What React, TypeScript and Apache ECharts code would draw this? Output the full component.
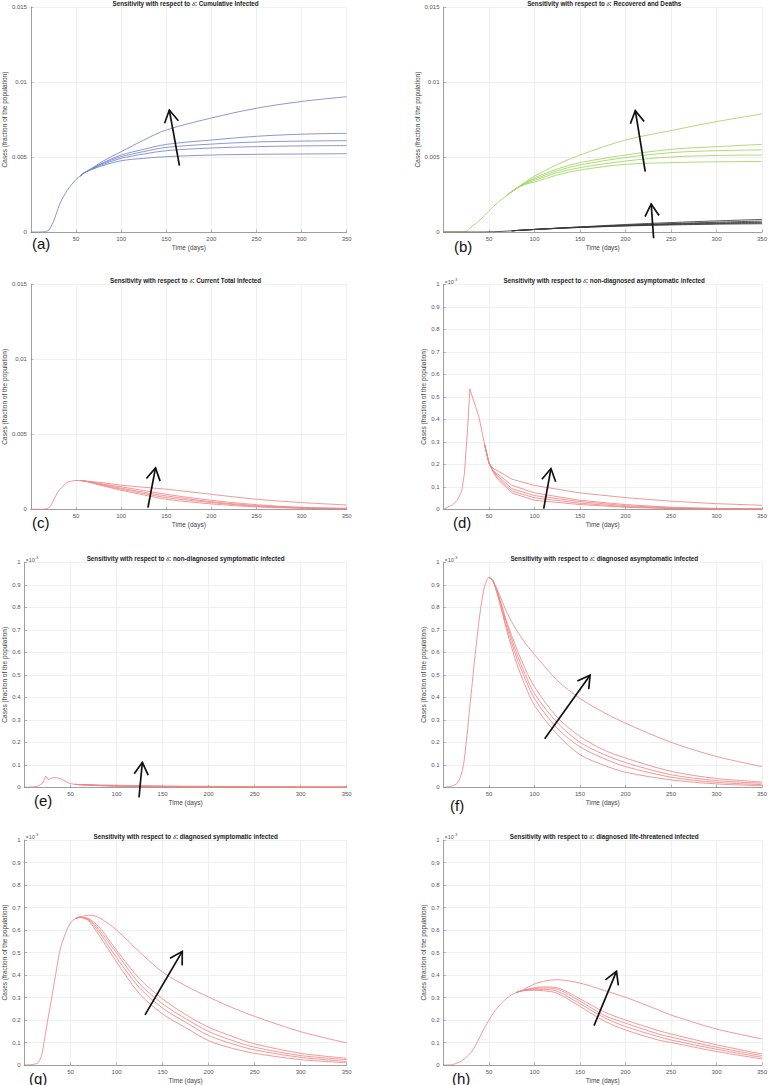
import React, { useEffect, useRef } from 'react';
import * as echarts from 'echarts';

// ---------- data (all values in units of 1e-3 of the population) ----------
// (a) Cumulative Infected
const AT0 = [0, 10, 15, 20, 23, 26, 30, 33, 36, 40, 45, 50, 55, 60];
const AV0 = [0, 0, 0.02, 0.13, 0.45, 0.85, 1.55, 2.0, 2.35, 2.75, 3.15, 3.5, 3.75, 3.98];
const AT1 = [70, 80, 100, 125, 150, 200, 250, 300, 350];
const AV1 = [4.22, 4.44, 4.75, 4.91, 5.02, 5.13, 5.18, 5.2, 5.22];
const AV2 = [4.25, 4.51, 4.91, 5.2, 5.42, 5.6, 5.69, 5.74, 5.76];
const AV3 = [4.28, 4.58, 5.02, 5.36, 5.64, 5.86, 6.0, 6.06, 6.09];
const AV4 = [4.3, 4.62, 5.13, 5.51, 5.84, 6.13, 6.38, 6.52, 6.58];
const AV5 = [4.35, 4.73, 5.35, 6.13, 6.8, 7.6, 8.25, 8.7, 9.02];

// (b) Recovered (green) and Deaths (black)
const BT0 = [0, 20, 25, 30, 40, 50, 60, 70, 80];
const BV0 = [0, 0, 0.05, 0.3, 0.8, 1.42, 1.98, 2.47, 2.9];
const BT1 = [90, 100, 125, 150, 200, 250, 300, 350];
const BV1 = [3.18, 3.33, 3.8, 4.13, 4.51, 4.62, 4.68, 4.7];
const BV2 = [3.22, 3.44, 3.95, 4.29, 4.73, 5.0, 5.1, 5.13];
const BV3 = [3.25, 3.53, 4.08, 4.47, 4.96, 5.29, 5.42, 5.47];
const BV4 = [3.28, 3.62, 4.2, 4.62, 5.13, 5.51, 5.69, 5.84];
const BV5 = [3.35, 3.73, 4.5, 5.13, 6.13, 6.76, 7.36, 7.87];
const KT0 = [0, 40, 50, 60, 75, 100];
const KV0 = [0, 0, 0.01, 0.03, 0.08, 0.17];
const KT1 = [125, 150, 200, 250, 300, 350];
const KV1 = [0.24, 0.3, 0.4, 0.47, 0.52, 0.55];
const KV2 = [0.24, 0.31, 0.42, 0.5, 0.56, 0.6];
const KV3 = [0.25, 0.32, 0.44, 0.53, 0.6, 0.65];
const KV4 = [0.25, 0.33, 0.46, 0.56, 0.65, 0.73];
const KV5 = [0.26, 0.34, 0.5, 0.63, 0.74, 0.84];

// (c) Current Total Infected
const CT0 = [0, 10, 20, 25, 30, 35, 40, 45, 50, 55, 60];
const CV0 = [0, 0, 0.11, 0.6, 1.16, 1.5, 1.79, 1.88, 1.92, 1.92, 1.88];
const CT1 = [70, 80, 100, 125, 150, 200, 250, 300, 350];
const CV1 = [1.72, 1.56, 1.27, 0.96, 0.67, 0.36, 0.16, 0.07, 0.02];
const CV2 = [1.74, 1.6, 1.34, 1.05, 0.78, 0.45, 0.2, 0.09, 0.03];
const CV3 = [1.76, 1.64, 1.41, 1.14, 0.89, 0.51, 0.25, 0.11, 0.05];
const CV4 = [1.78, 1.68, 1.5, 1.25, 1.0, 0.6, 0.31, 0.13, 0.07];
const CV5 = [1.83, 1.77, 1.61, 1.47, 1.34, 1.0, 0.67, 0.45, 0.29];

// (d) non-diagnosed asymptomatic infected
const DT0 = [0, 10, 15, 20, 23, 26, 29, 39, 42, 45, 50];
const DV0 = [0, 0.02, 0.04, 0.08, 0.16, 0.33, 0.535, 0.41, 0.35, 0.29, 0.205];
const DT1 = [55, 60, 75, 100, 150, 200, 250, 300, 350];
const DV1 = [0.162, 0.132, 0.073, 0.04, 0.021, 0.009, 0.003, 0.001, 0.0005];
const DV2 = [0.165, 0.14, 0.082, 0.051, 0.027, 0.012, 0.004, 0.002, 0.001];
const DV3 = [0.168, 0.147, 0.092, 0.061, 0.034, 0.016, 0.006, 0.003, 0.001];
const DV4 = [0.17, 0.156, 0.107, 0.073, 0.04, 0.021, 0.009, 0.004, 0.002];
const DV5 = [0.18, 0.17, 0.134, 0.106, 0.073, 0.052, 0.036, 0.025, 0.018];

// (e) non-diagnosed symptomatic infected
const ET0 = [0, 10, 15, 20, 23, 26, 30, 35, 40, 45, 50, 55, 60];
const EV0 = [0, 0.002, 0.006, 0.02, 0.05, 0.034, 0.042, 0.043, 0.037, 0.025, 0.016, 0.013, 0.012];
const ET1 = [80, 100, 150, 200, 250, 300, 350];
const EV1 = [0.0075, 0.005, 0.002, 0.001, 0.0005, 0.0002, 0.0001];
const EV2 = [0.008, 0.0055, 0.0028, 0.0012, 0.0006, 0.0003, 0.0002];
const EV3 = [0.0085, 0.006, 0.003, 0.0015, 0.0008, 0.0004, 0.0002];
const EV4 = [0.009, 0.007, 0.004, 0.002, 0.001, 0.0006, 0.0004];
const EV5 = [0.01, 0.009, 0.006, 0.004, 0.003, 0.002, 0.0015];

// (f) diagnosed asymptomatic infected
const FT0 = [0, 10, 15, 19, 22, 25, 28, 31, 34, 37, 40, 43, 46, 50, 54];
const FV0 = [0, 0.007, 0.018, 0.05, 0.1, 0.2, 0.32, 0.44, 0.56, 0.67, 0.77, 0.85, 0.905, 0.933, 0.92];
const FT1 = [60, 70, 80, 90, 100, 125, 150, 175, 200, 250, 300, 350];
const FV1 = [0.845, 0.69, 0.555, 0.45, 0.364, 0.235, 0.145, 0.1, 0.067, 0.033, 0.015, 0.007];
const FV2 = [0.85, 0.705, 0.58, 0.48, 0.394, 0.262, 0.18, 0.13, 0.092, 0.045, 0.022, 0.012];
const FV3 = [0.855, 0.72, 0.6, 0.5, 0.416, 0.287, 0.2, 0.148, 0.11, 0.056, 0.03, 0.018];
const FV4 = [0.86, 0.73, 0.62, 0.525, 0.446, 0.311, 0.226, 0.168, 0.13, 0.071, 0.039, 0.024];
const FV5 = [0.87, 0.775, 0.7, 0.64, 0.59, 0.475, 0.395, 0.335, 0.285, 0.2, 0.137, 0.092];

// (g) diagnosed symptomatic infected
const GT0 = [0, 10, 15, 19, 24, 30, 35, 38, 41, 46, 50, 55, 60];
const GV0 = [0, 0.003, 0.012, 0.05, 0.17, 0.31, 0.43, 0.5, 0.545, 0.6, 0.632, 0.65, 0.657];
const GT1 = [65, 70, 81, 100, 125, 150, 175, 200, 225, 250, 300, 350];
const GV1 = [0.652, 0.64, 0.577, 0.458, 0.316, 0.227, 0.166, 0.108, 0.075, 0.052, 0.024, 0.01];
const GV2 = [0.653, 0.644, 0.591, 0.477, 0.343, 0.253, 0.19, 0.131, 0.095, 0.067, 0.034, 0.016];
const GV3 = [0.654, 0.647, 0.602, 0.497, 0.361, 0.272, 0.206, 0.149, 0.11, 0.079, 0.042, 0.024];
const GV4 = [0.655, 0.65, 0.614, 0.51, 0.383, 0.294, 0.224, 0.168, 0.128, 0.094, 0.052, 0.03];
const GV5 = [0.663, 0.666, 0.655, 0.6, 0.502, 0.413, 0.352, 0.302, 0.256, 0.216, 0.148, 0.098];

// (h) diagnosed life-threatened infected
const HT0 = [0, 10, 17, 20, 25, 30, 35, 40, 45, 50, 55, 60, 65, 70, 75, 80, 85];
const HV0 = [0, 0.002, 0.012, 0.018, 0.035, 0.055, 0.085, 0.125, 0.165, 0.2, 0.232, 0.258, 0.28, 0.298, 0.312, 0.322, 0.329];
const HT1 = [94, 100, 110, 125, 150, 177, 200, 236, 250, 300, 350];
const HV1 = [0.332, 0.332, 0.33, 0.319, 0.26, 0.195, 0.156, 0.111, 0.1, 0.06, 0.027];
const HV2 = [0.334, 0.336, 0.336, 0.328, 0.272, 0.21, 0.171, 0.126, 0.111, 0.07, 0.034];
const HV3 = [0.336, 0.34, 0.342, 0.337, 0.284, 0.22, 0.186, 0.138, 0.124, 0.079, 0.042];
const HV4 = [0.338, 0.344, 0.347, 0.343, 0.294, 0.235, 0.2, 0.153, 0.138, 0.09, 0.049];
const HV5 = [0.348, 0.36, 0.372, 0.379, 0.364, 0.331, 0.301, 0.245, 0.222, 0.16, 0.116];

// titles
const TITLES = [
  'Cumulative Infected',
  'Recovered and Deaths',
  'Current Total Infected',
  'non-diagnosed asymptomatic infected',
  'non-diagnosed symptomatic infected',
  'diagnosed asymptomatic infected',
  'diagnosed symptomatic infected',
  'diagnosed life-threatened infected',
];
const LETTERS = ['(a)', '(b)', '(c)', '(d)', '(e)', '(f)', '(g)', '(h)'];

// arrows (annotation) in data coords: [panel, tailT, tailV, headT, headV]
const ARROWS = [
  [0, 164.6, 4.42, 153.4, 8.13],
  [1, 221.7, 4.02, 210.8, 8.09],
  [1, 230.9, -0.42, 228.2, 1.87],
  [2, 129.7, 0.113, 138.1, 2.76],
  [3, 110.1, 0.003, 118.1, 0.181],
  [4, 124.4, -0.045, 128.0, 0.111],
  [5, 111.2, 0.216, 161.1, 0.498],
  [6, 130.9, 0.223, 171.4, 0.505],
  [7, 165.4, 0.175, 190.1, 0.416],
];

// ---------- layout ----------
const FONT = 'Arial, "Liberation Sans", Helvetica, sans-serif';
const COLX = [24.5, 443.5];
const COLW = [322.2, 321.5];
const ROWY = [7, 284.3, 562.3, 840];
const PH = 225;
const NAMEGAP = [20, 17, 20, 13, 14, 13, 14, 13];
const LETTERPOS = [
  [32, 243], [454, 246], [32, 522], [453, 522],
  [34, 800], [450, 805], [29, 1078], [452, 1078],
];

const RED = '#f08585';
const BLUE = '#7584cc';
const GREEN = '#9fd560';
const BLACK = '#3a3a3a';

function pairs(t0: number[], v0: number[], t1: number[], v1: number[]) {
  const out: number[][] = [];
  t0.forEach((t, i) => out.push([t, v0[i]]));
  t1.forEach((t, i) => out.push([t, v1[i]]));
  return out;
}

const GROUPS: any[] = [
  [{ t0: AT0, v0: AV0, t1: AT1, vs: [AV1, AV2, AV3, AV4, AV5], color: BLUE, smooth: 0.35 }],
  [
    { t0: BT0, v0: BV0, t1: BT1, vs: [BV1, BV2, BV3, BV4, BV5], color: GREEN, smooth: 0.35 },
    { t0: KT0, v0: KV0, t1: KT1, vs: [KV1, KV2, KV3, KV4, KV5], color: BLACK, smooth: 0.35 },
  ],
  [{ t0: CT0, v0: CV0, t1: CT1, vs: [CV1, CV2, CV3, CV4, CV5], color: RED, smooth: 0.35 }],
  [{ t0: DT0, v0: DV0, t1: DT1, vs: [DV1, DV2, DV3, DV4, DV5], color: RED, smooth: false }],
  [{ t0: ET0, v0: EV0, t1: ET1, vs: [EV1, EV2, EV3, EV4, EV5], color: RED, smooth: false }],
  [{ t0: FT0, v0: FV0, t1: FT1, vs: [FV1, FV2, FV3, FV4, FV5], color: RED, smooth: 0.3 }],
  [{ t0: GT0, v0: GV0, t1: GT1, vs: [GV1, GV2, GV3, GV4, GV5], color: RED, smooth: 0.3 }],
  [{ t0: HT0, v0: HV0, t1: HT1, vs: [HV1, HV2, HV3, HV4, HV5], color: RED, smooth: 0.3 }],
];

export default function App() {
  const ref = useRef<HTMLDivElement>(null);
  useEffect(() => {
    const chart = echarts.init(ref.current!, null, { renderer: 'svg' });
    const grids: any[] = [];
    const xAxes: any[] = [];
    const yAxes: any[] = [];
    const series: any[] = [];
    const graphics: any[] = [];

    for (let i = 0; i < 8; i++) {
      const col = i % 2;
      const row = Math.floor(i / 2);
      const left = COLX[col];
      const top = ROWY[row];
      const w = COLW[col];
      grids.push({ left, top, width: w, height: PH, containLabel: false });
      const axisCommon = {
        gridIndex: i,
        type: 'value',
        nameLocation: 'middle',
        nameTextStyle: { fontSize: 6.5, color: '#444', fontFamily: FONT },
        axisLine: { show: true, lineStyle: { color: '#8a8a8a', width: 0.8 } },
        axisTick: { show: true, inside: true, length: 2.5, lineStyle: { color: '#8a8a8a', width: 0.6 } },
        splitLine: { show: true, lineStyle: { color: '#ececec', width: 0.8 } },
      };
      xAxes.push({
        ...axisCommon,
        min: 0,
        max: 350,
        interval: 50,
        name: 'Time (days)',
        nameGap: 12,
        axisLabel: { fontSize: 6, color: '#555', margin: 4, showMinLabel: false, fontFamily: FONT },
      });
      const frac = i < 3;
      yAxes.push({
        ...axisCommon,
        min: 0,
        max: frac ? 15 : 1,
        interval: frac ? 5 : 0.1,
        name: 'Cases (fraction of the population)',
        nameGap: NAMEGAP[i],
        axisLabel: {
          fontSize: 6,
          color: '#555',
          margin: 4,
          fontFamily: FONT,
          formatter: (v: number) => (frac ? (v === 0 ? '0' : String(+(v / 1000).toFixed(3))) : String(+v.toFixed(1))),
        },
      });

      GROUPS[i].forEach((g: any, gi: number) => {
        g.vs.forEach((vals: number[], k: number) => {
          // the shared early part is drawn once (by the first curve of the group)
          const t0 = k === 0 ? g.t0 : g.t0.slice(-2);
          const v0 = k === 0 ? g.v0 : g.v0.slice(-2);
          series.push({
            type: 'line',
            name: `p${i}-g${gi}-s${k}`,
            xAxisIndex: i,
            yAxisIndex: i,
            data: pairs(t0, v0, g.t1, vals),
            showSymbol: false,
            symbol: 'none',
            smooth: g.smooth,
            lineStyle: { color: g.color, width: 0.85 },
            z: 2,
          });
        });
      });

      // title
      graphics.push({
        type: 'text',
        x: left + w / 2,
        y: top - 4,
        z: 10,
        style: {
          text: `{b|Sensitivity with respect to }{i|δ}{b|: ${TITLES[i]}}`,
          align: 'center',
          verticalAlign: 'middle',
          rich: {
            b: { fontSize: 6.3, fontWeight: 'bold', fontFamily: FONT, fill: '#222' },
            i: { fontSize: 6.5, fontStyle: 'italic', fontFamily: '"Liberation Serif", "DejaVu Serif", serif', fill: '#222' },
          },
        },
      });
      // letter
      graphics.push({
        type: 'text',
        x: LETTERPOS[i][0],
        y: LETTERPOS[i][1],
        z: 10,
        style: { text: LETTERS[i], fontSize: 15, fontFamily: FONT, fill: '#111', align: 'left', verticalAlign: 'middle' },
      });
      // exponent
      if (!frac) {
        graphics.push({
          type: 'text',
          x: left + 1,
          y: top - 2.8,
          z: 10,
          style: { text: '×10', fontSize: 5.5, fontFamily: FONT, fill: '#555', align: 'left', verticalAlign: 'middle' },
        });
        graphics.push({
          type: 'text',
          x: left + 10,
          y: top - 5.2,
          z: 10,
          style: { text: '-3', fontSize: 4.2, fontFamily: FONT, fill: '#555', align: 'left', verticalAlign: 'middle' },
        });
      }
    }

    chart.setOption({
      animation: false,
      backgroundColor: '#ffffff',
      textStyle: { fontFamily: FONT },
      grid: grids,
      xAxis: xAxes,
      yAxis: yAxes,
      series,
    });

    ARROWS.forEach((a) => {
      const p0 = chart.convertToPixel({ gridIndex: a[0] } as any, [a[1], a[2]]) as number[];
      const p1 = chart.convertToPixel({ gridIndex: a[0] } as any, [a[3], a[4]]) as number[];
      const dx = p0[0] - p1[0];
      const dy = p0[1] - p1[1];
      const len = Math.sqrt(dx * dx + dy * dy);
      const ux = dx / len;
      const uy = dy / len;
      const L = 14;
      const ang = (30 * Math.PI) / 180;
      const c = Math.cos(ang);
      const s = Math.sin(ang);
      const w1 = [p1[0] + L * (ux * c - uy * s), p1[1] + L * (ux * s + uy * c)];
      const w2 = [p1[0] + L * (ux * c + uy * s), p1[1] + L * (-ux * s + uy * c)];
      graphics.push({
        type: 'line',
        z: 20,
        shape: { x1: p0[0], y1: p0[1], x2: p1[0], y2: p1[1] },
        style: { stroke: '#111', lineWidth: 1.7 },
      });
      graphics.push({
        type: 'polyline',
        z: 20,
        shape: { points: [w1, p1, w2] },
        style: { stroke: '#111', lineWidth: 1.7, fill: null },
      });
    });

    chart.setOption({ graphic: { elements: graphics } });

    return () => chart.dispose();
  }, []);
  return <div ref={ref} style={{ position: 'absolute', left: 0, top: 0, width: 770, height: 1085 }} />;
}
